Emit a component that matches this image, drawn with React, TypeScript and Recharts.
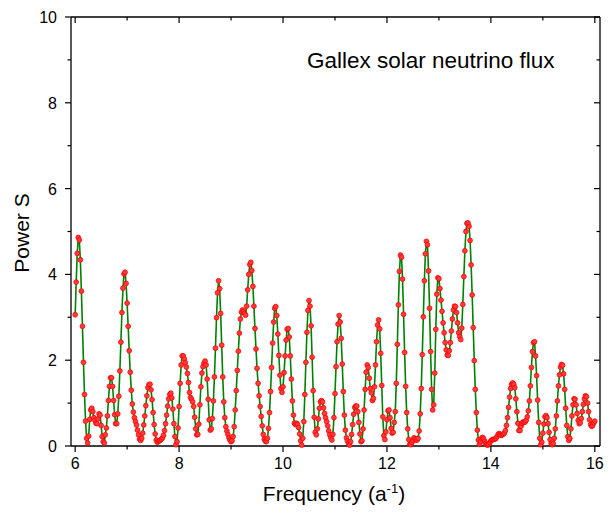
import React from 'react';
import { LineChart, Line, XAxis, YAxis } from 'recharts';

// Power spectrum values, one array per unit of frequency,
// step 0.02 a^-1 (power06 = 6.00 … 6.98, and so on, power15 ends at 16.00)
const FREQ_STEP = 0.02;

const power06 = [
  3.06, 3.82, 4.49, 4.86, 4.80, 4.34, 3.61, 2.79, 1.95, 1.20,
  0.58, 0.18, 0.07, 0.23, 0.62, 0.84, 0.88, 0.80, 0.66, 0.60,
  0.53, 0.52, 0.63, 0.75, 0.72, 0.48, 0.22, 0.10, 0.07, 0.26,
  0.42, 0.70, 1.06, 1.39, 1.59, 1.59, 1.39, 1.06, 0.73, 0.52,
  0.52, 0.75, 1.16, 1.75, 2.42, 3.11, 3.68, 4.01, 4.05, 3.79,
];
const power07 = [
  3.33, 2.79, 2.22, 1.72, 1.30, 0.98, 0.79, 0.66, 0.57, 0.49,
  0.37, 0.26, 0.16, 0.13, 0.18, 0.30, 0.49, 0.70, 0.94, 1.17,
  1.36, 1.43, 1.44, 1.31, 1.08, 0.78, 0.50, 0.28, 0.14, 0.09,
  0.10, 0.12, 0.14, 0.16, 0.19, 0.25, 0.36, 0.52, 0.72, 0.93,
  1.10, 1.20, 1.23, 1.12, 0.86, 0.52, 0.22, 0.03, 0.10, 0.42,
];
const power08 = [
  0.92, 1.46, 1.89, 2.10, 2.10, 2.03, 1.94, 1.84, 1.69, 1.48,
  1.25, 1.13, 1.09, 1.03, 0.92, 0.67, 0.40, 0.26, 0.27, 0.51,
  0.96, 1.38, 1.70, 1.85, 1.93, 1.98, 1.89, 1.56, 1.09, 0.61,
  0.37, 0.40, 0.64, 1.05, 1.61, 2.28, 2.99, 3.57, 3.85, 3.67,
  3.09, 2.35, 1.61, 1.03, 0.66, 0.45, 0.35, 0.27, 0.19, 0.14,
];
const power09 = [
  0.10, 0.12, 0.22, 0.45, 0.84, 1.29, 1.76, 2.21, 2.63, 2.96,
  3.12, 3.17, 3.13, 3.09, 3.05, 3.26, 3.64, 4.00, 4.23, 4.28,
  4.09, 3.72, 3.26, 2.74, 2.26, 1.81, 1.46, 1.17, 0.92, 0.69,
  0.47, 0.27, 0.16, 0.11, 0.10, 0.18, 0.41, 0.78, 1.27, 1.83,
  2.40, 2.89, 3.21, 3.25, 3.04, 2.61, 2.11, 1.65, 1.34, 1.25,
];
const power10 = [
  1.38, 1.71, 2.10, 2.47, 2.72, 2.74, 2.54, 2.10, 1.56, 1.05,
  0.72, 0.53, 0.50, 0.53, 0.50, 0.43, 0.28, 0.12, 0.02, 0.18,
  0.57, 1.20, 1.95, 2.65, 3.16, 3.39, 3.26, 2.80, 2.07, 1.29,
  0.67, 0.32, 0.26, 0.40, 0.63, 0.88, 1.03, 1.06, 1.03, 0.89,
  0.76, 0.66, 0.57, 0.47, 0.35, 0.26, 0.19, 0.14, 0.27, 0.66,
];
const power11 = [
  1.22, 1.85, 2.43, 2.84, 3.04, 2.89, 2.51, 1.91, 1.27, 0.72,
  0.37, 0.19, 0.12, 0.06, 0.02, 0.10, 0.27, 0.50, 0.74, 0.90,
  0.93, 0.93, 0.80, 0.55, 0.28, 0.10, 0.12, 0.40, 0.84, 1.32,
  1.72, 1.89, 1.83, 1.58, 1.34, 1.24, 1.06, 1.11, 1.38, 1.89,
  2.43, 2.82, 2.94, 2.73, 2.16, 1.41, 0.68, 0.24, 0.15, 0.33,
];
const power12 = [
  0.61, 0.82, 0.84, 0.66, 0.41, 0.30, 0.32, 0.55, 0.80, 1.46,
  2.37, 3.29, 4.07, 4.45, 4.40, 3.89, 3.07, 2.18, 1.39, 0.78,
  0.40, 0.15, 0.04, 0.03, 0.08, 0.13, 0.19, 0.17, 0.14, 0.14,
  0.18, 0.35, 0.75, 1.34, 2.13, 3.01, 3.85, 4.48, 4.77, 4.69,
  4.08, 3.21, 2.20, 1.32, 0.84, 0.96, 1.70, 2.72, 3.54, 3.92,
];
const power13 = [
  3.90, 3.67, 3.40, 3.14, 2.87, 2.64, 2.41, 2.24, 2.12, 2.11,
  2.22, 2.41, 2.68, 2.96, 3.17, 3.26, 3.25, 3.11, 2.87, 2.64,
  2.55, 2.48, 2.75, 3.30, 3.95, 4.55, 5.00, 5.19, 5.20, 5.12,
  4.79, 4.22, 3.52, 2.76, 1.99, 1.32, 0.78, 0.37, 0.14, 0.04,
  0.10, 0.18, 0.20, 0.17, 0.11, 0.06, 0.03, 0.02, 0.04, 0.08,
];
const power14 = [
  0.12, 0.14, 0.15, 0.16, 0.16, 0.18, 0.22, 0.27, 0.29, 0.27,
  0.25, 0.26, 0.28, 0.30, 0.36, 0.48, 0.66, 0.90, 1.14, 1.34,
  1.44, 1.47, 1.44, 1.36, 1.10, 0.80, 0.53, 0.36, 0.36, 0.46,
  0.53, 0.56, 0.55, 0.56, 0.60, 0.68, 0.82, 1.05, 1.40, 1.83,
  2.20, 2.41, 2.43, 2.10, 1.64, 1.07, 0.55, 0.18, 0.03, 0.09,
];
const power15 = [
  0.30, 0.51, 0.68, 0.71, 0.66, 0.52, 0.32, 0.15, 0.06, 0.03,
  0.06, 0.18, 0.40, 0.70, 1.05, 1.40, 1.66, 1.84, 1.90, 1.88,
  1.68, 1.32, 0.88, 0.48, 0.22, 0.13, 0.18, 0.40, 0.70, 0.96,
  1.10, 1.09, 0.96, 0.76, 0.60, 0.52, 0.54, 0.64, 0.80, 0.97,
  1.10, 1.17, 1.15, 1.00, 0.80, 0.61, 0.50, 0.46, 0.48, 0.54,
  0.58,
];

const xTicks = [6, 7, 8, 9, 10, 11, 12, 13, 14, 15, 16];
const yTicks = [0, 1, 2, 3, 4, 5, 6, 7, 8, 9, 10];

const X_MIN = 5.92;
const X_MAX = 16.1;
const Y_MAX = 10;

const segments: [number, number[]][] = [
  [6, power06], [7, power07], [8, power08], [9, power09], [10, power10],
  [11, power11], [12, power12], [13, power13], [14, power14], [15, power15],
];

const data = segments.flatMap(([start, vals]) =>
  vals.map((p, i) => ({ freq: +(start + i * FREQ_STEP).toFixed(2), power: p }))
);

const W = 611;
const H = 516;
const M = { top: 17, right: 11, bottom: 70, left: 71 };
const PLOT = { left: M.left, top: M.top, right: W - M.right, bottom: H - M.bottom };

const FONT = '"Liberation Sans", Arial, sans-serif';
const MAJOR = 6;
const MINOR = 3.5;

const isMajor = (v: number) => v % 2 === 0;

// only used for the mirrored top/right frame ticks
const fx = (v: number) => PLOT.left + ((v - X_MIN) / (X_MAX - X_MIN)) * (PLOT.right - PLOT.left);
const fy = (v: number) => PLOT.bottom - (v / Y_MAX) * (PLOT.bottom - PLOT.top);

const BottomTick = ({ x, y, payload }: any) => {
  const len = isMajor(payload.value) ? MAJOR : MINOR;
  return (
    <g>
      <line x1={x} x2={x} y1={y} y2={y + len} stroke="#000" strokeWidth={1.2} />
      {isMajor(payload.value) && (
        <text x={x} y={y + 23} textAnchor="middle" fontSize={16} fontFamily={FONT} fill="#000">
          {payload.value}
        </text>
      )}
    </g>
  );
};

const LeftTick = ({ x, y, payload }: any) => {
  const len = isMajor(payload.value) ? MAJOR : MINOR;
  return (
    <g>
      <line x1={x - len} x2={x} y1={y} y2={y} stroke="#000" strokeWidth={1.2} />
      {isMajor(payload.value) && (
        <text x={x - 14} y={y + 6} textAnchor="end" fontSize={16} fontFamily={FONT} fill="#000">
          {payload.value}
        </text>
      )}
    </g>
  );
};

const axisLine = { stroke: '#000', strokeWidth: 1.3 };

export default function App() {
  return (
    <div style={{ position: 'relative', width: W, height: H, background: '#fff' }}>
      <style>{'body{margin:0}'}</style>
      <LineChart width={W} height={H} data={data} margin={{ top: M.top, right: M.right, bottom: 0, left: 0 }}>
        <XAxis
          dataKey="freq"
          type="number"
          domain={[X_MIN, X_MAX]}
          ticks={xTicks}
          interval={0}
          height={M.bottom}
          tickSize={0}
          tickMargin={0}
          axisLine={axisLine}
          tickLine={false}
          tick={<BottomTick />}
          allowDataOverflow
        />
        <YAxis
          type="number"
          domain={[0, Y_MAX]}
          ticks={yTicks}
          interval={0}
          width={M.left}
          tickSize={0}
          tickMargin={0}
          axisLine={axisLine}
          tickLine={false}
          tick={<LeftTick />}
        />
        <Line
          type="linear"
          dataKey="power"
          stroke="#008000"
          strokeWidth={1.6}
          dot={{ r: 2.4, fill: '#ff3b3b', stroke: '#ff0000', strokeWidth: 0.8 }}
          isAnimationActive={false}
        />
      </LineChart>
      <svg
        width={W}
        height={H}
        style={{ position: 'absolute', left: 0, top: 0, pointerEvents: 'none' }}
      >
        {/* top and right frame with inward ticks */}
        <line x1={PLOT.left} x2={PLOT.right} y1={PLOT.top} y2={PLOT.top} stroke="#000" strokeWidth={1.3} />
        <line x1={PLOT.right} x2={PLOT.right} y1={PLOT.top} y2={PLOT.bottom} stroke="#000" strokeWidth={1.3} />
        {xTicks.map((t) => (
          <line
            key={`tx${t}`}
            x1={fx(t)}
            x2={fx(t)}
            y1={PLOT.top}
            y2={PLOT.top + (isMajor(t) ? MAJOR : MINOR)}
            stroke="#000"
            strokeWidth={1.2}
          />
        ))}
        {yTicks.map((t) => (
          <line
            key={`ty${t}`}
            x1={PLOT.right - (isMajor(t) ? MAJOR : MINOR)}
            x2={PLOT.right}
            y1={fy(t)}
            y2={fy(t)}
            stroke="#000"
            strokeWidth={1.2}
          />
        ))}

        <text x={307} y={68} fontSize={22.5} fontFamily={FONT} fill="#000">
          Gallex solar neutrino flux
        </text>
        <text x={334} y={501} textAnchor="middle" fontSize={21} fontFamily={FONT} fill="#000">
          Frequency (a<tspan dy={-8} fontSize={13}>-1</tspan>
          <tspan dy={8}>)</tspan>
        </text>
        <text
          transform="translate(29 233) rotate(-90)"
          textAnchor="middle"
          fontSize={21}
          fontFamily={FONT}
          fill="#000"
        >
          Power S
        </text>
      </svg>
    </div>
  );
}
